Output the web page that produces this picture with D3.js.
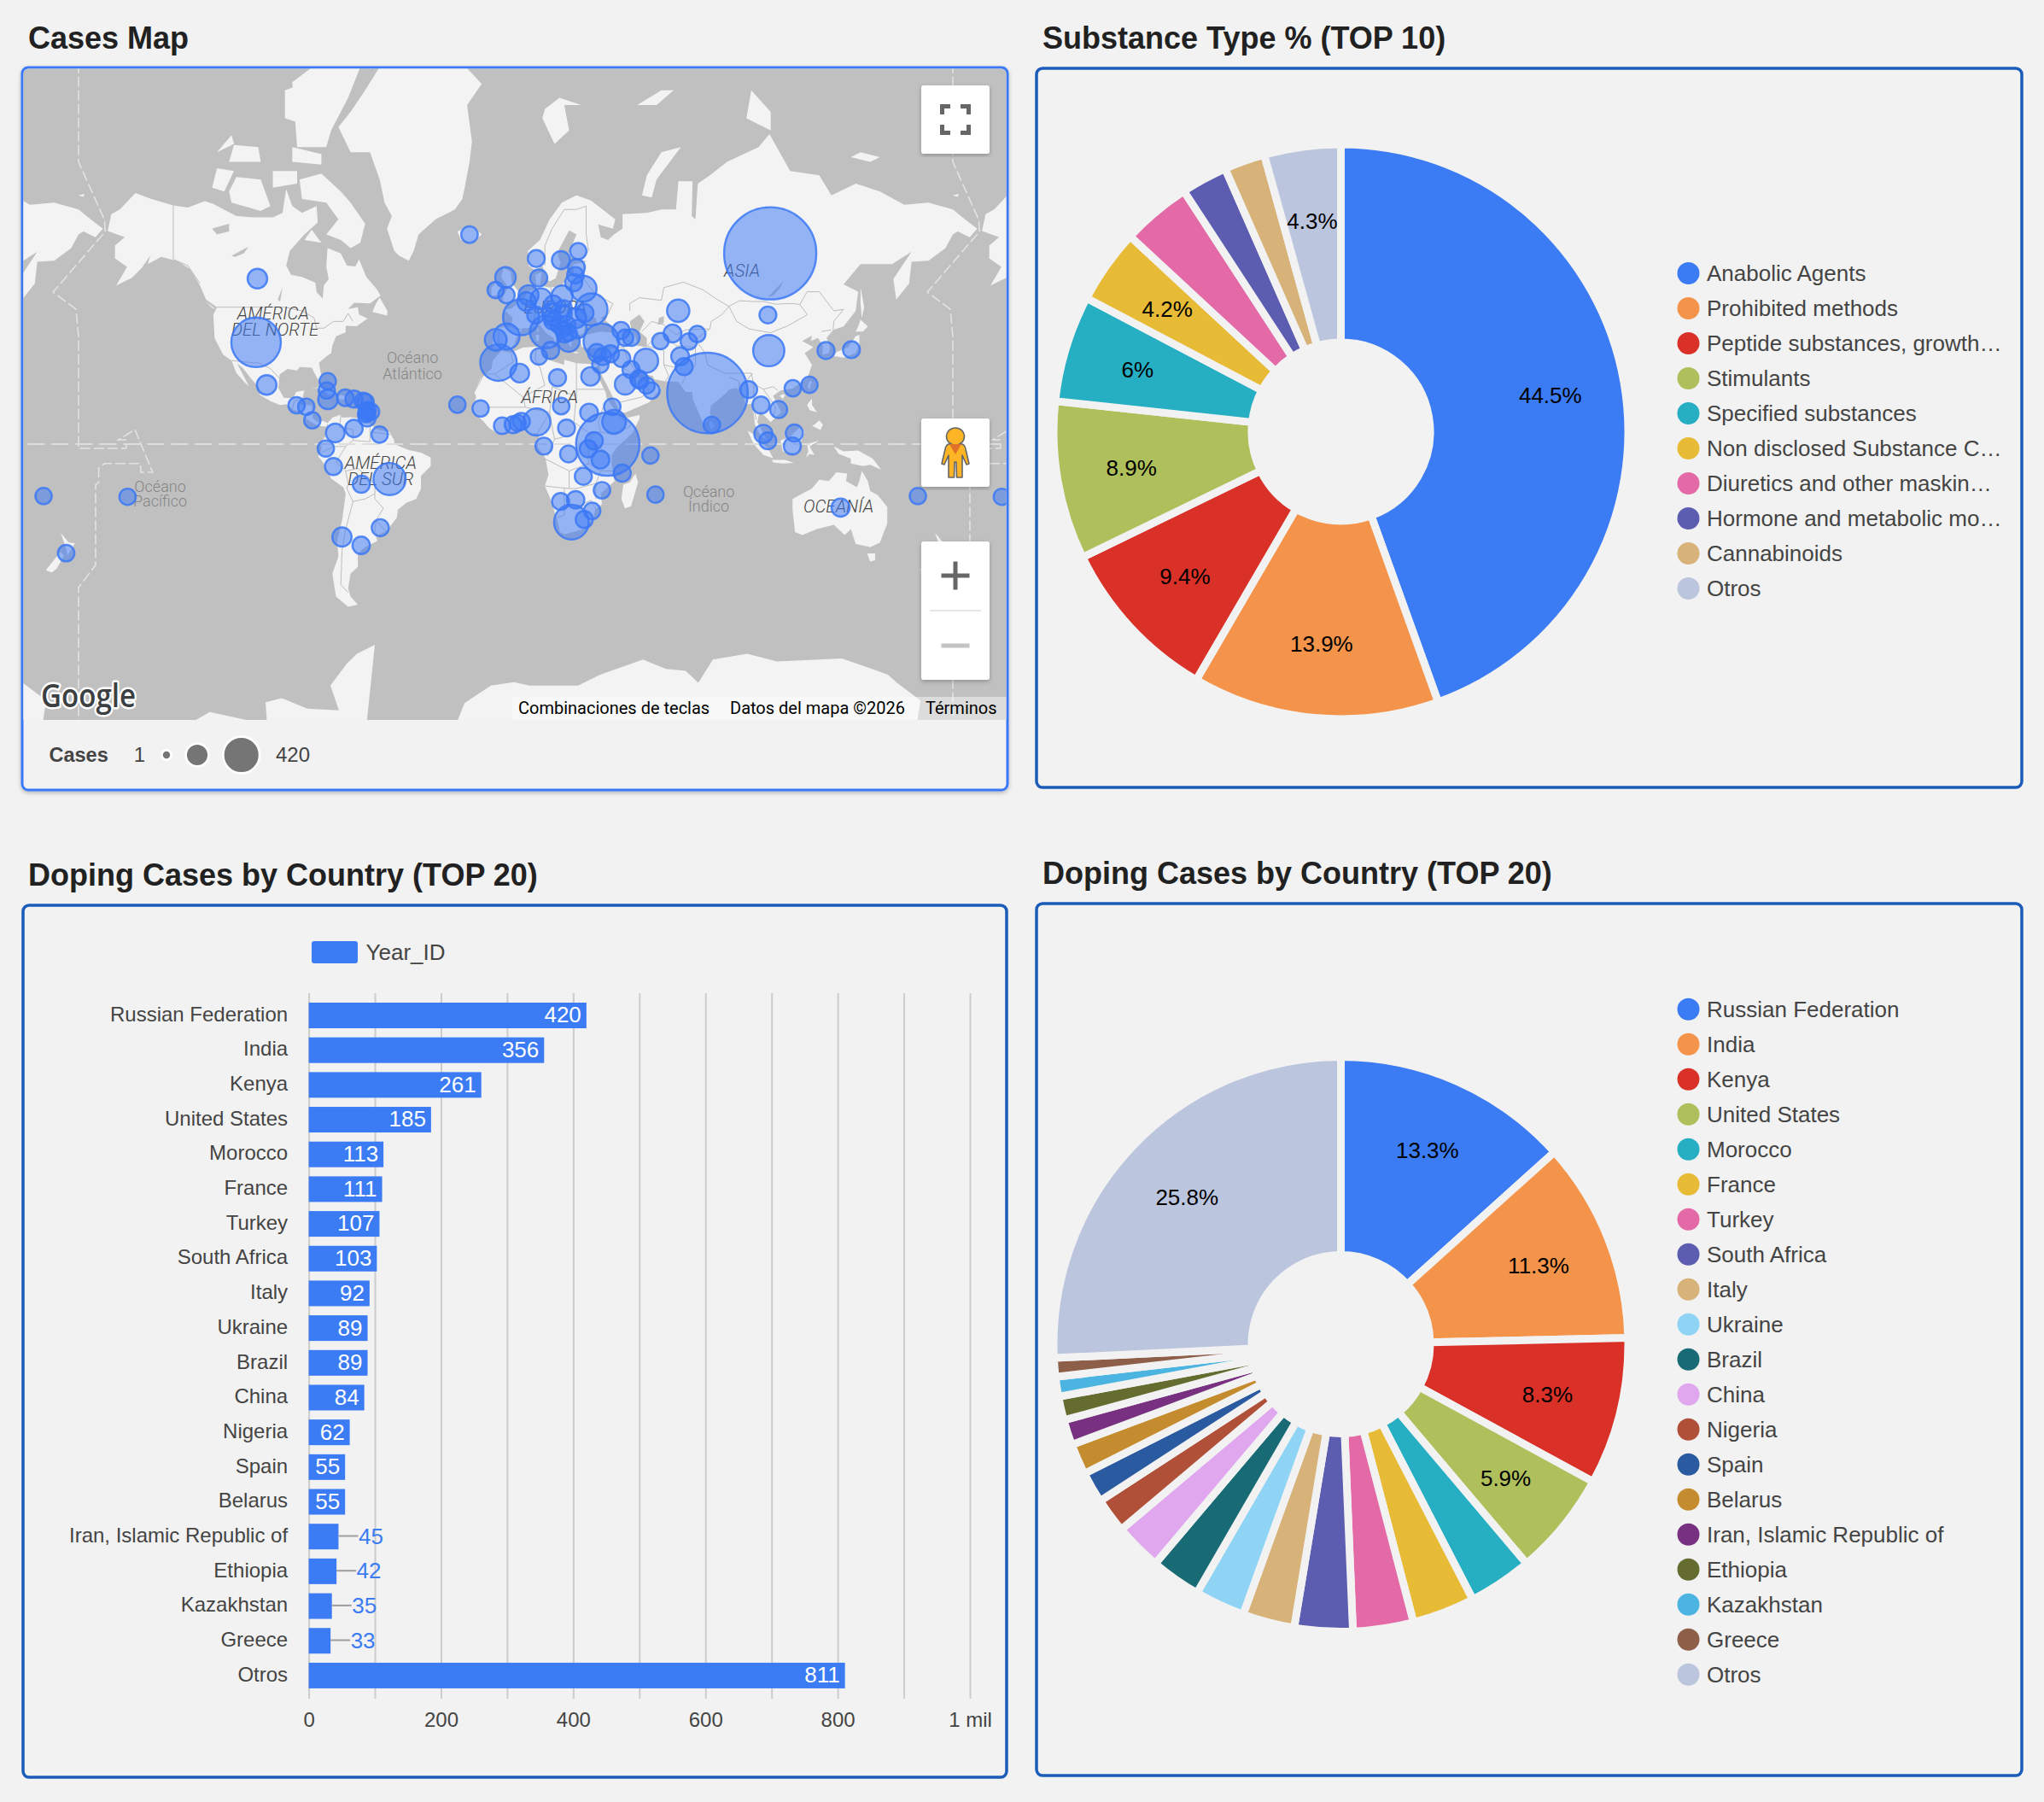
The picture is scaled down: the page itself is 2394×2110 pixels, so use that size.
<!DOCTYPE html>
<html><head><meta charset="utf-8">
<script src="https://cdn.jsdelivr.net/npm/d3@7"></script>
<style>
html,body{margin:0;padding:0;background:#f2f2f2}
svg{display:block}
text{font-family:"Liberation Sans",Arial,sans-serif}
text.rb{font-family:Roboto,sans-serif}
</style></head><body>
<svg id="c" width="2394" height="2110"></svg>
<script>
// ---------- DATA ----------
const barCategories = ["Russian Federation","India","Kenya","United States","Morocco","France","Turkey","South Africa","Italy","Ukraine","Brazil","China","Nigeria","Spain","Belarus","Iran, Islamic Republic of","Ethiopia","Kazakhstan","Greece","Otros"];
const barValues = [420,356,261,185,113,111,107,103,92,89,89,84,62,55,55,45,42,35,33,811];
const axisTicks = [0,100,200,300,400,500,600,700,800,900,1000];
const substanceNames = ["Anabolic Agents","Prohibited methods","Peptide substances, growth…","Stimulants","Specified substances","Non disclosed Substance C…","Diuretics and other maskin…","Hormone and metabolic mo…","Cannabinoids","Otros"];
const substanceValues = [44.5,13.9,9.4,8.9,6,4.2,3.9,2.6,2.3,4.3];
const palette = ["#3b7bf4","#f4944a","#d93128","#aebf5b","#26aec3","#e7bb35","#e36aa7","#5c5cb0","#d7b279","#8fd4f5","#186b75","#e0a7ef","#b15039","#2a5aa0","#c48c2e","#783080","#646c30","#4cb4e0","#8d5e48"];
const otherColor = "#bcc5de";
const sizeLegend = [1,420];
// country, lon, lat, cases
const geoCases = [
["Russian Federation",104.8,61.5,420],["India",78.96,20.59,356],["Kenya",37.91,-0.02,261],["United States",-106.9,38.6,185],["Morocco",-7.09,31.79,113],["France",2.21,46.23,111],["Turkey",35.24,38.96,107],["South Africa",22.94,-30.56,103],["Italy",12.57,41.87,92],["Ukraine",31.17,48.38,89],["Brazil",-51.93,-14.24,89],["China",104.2,35.86,84],["Nigeria",8.68,9.08,62],["Spain",-3.75,40.46,55],["Belarus",27.95,53.71,55],["Iran",53.69,32.43,45],["Ethiopia",40.49,9.15,42],["Kazakhstan",66.92,48.02,35],["Greece",21.82,39.07,33],
["Canada",-106.35,56.13,20],["Mexico",-102.55,23.63,20],["Guatemala",-90.23,15.78,2],["Honduras",-86.24,15.2,2],["Costa Rica",-83.75,9.75,2],["Bahamas",-77.4,25.03,2],["Cuba",-77.78,21.52,2],["Jamaica",-77.3,18.1,20],["Dominican Republic",-70.16,18.74,3],["Puerto Rico",-66.59,18.22,6],["St Kitts",-62.78,17.36,6],["Antigua",-61.8,17.06,2],["Barbados",-59.54,13.19,2],["St Lucia",-60.98,13.9,1],["Grenada",-61.6,12.26,2],["St Vincent",-61.29,12.98,1],["Trinidad",-61.22,10.69,6],["Venezuela",-66.59,6.42,8],["Colombia",-74.3,4.57,15],["Suriname",-56.03,3.92,2],["Ecuador",-78.18,-1.83,2],["Peru",-75.02,-9.19,6],["Bolivia",-63.59,-16.29,6],["Uruguay",-55.77,-32.52,6],["Chile",-71.54,-35.68,18],["Argentina",-63.62,-38.42,8],
["Iceland",-19.02,64.96,3],["Norway",8.47,60.47,5],["Sweden",18.64,60.13,12],["Finland",25.75,61.92,2],["Estonia",25.01,58.6,5],["Latvia",24.6,56.88,3],["Lithuania",23.88,55.17,6],["Denmark",9.5,56.26,6],["United Kingdom",-4.2,56.4,25],["Ireland",-8.24,53.41,2],["Wales",-3.78,52.13,2],["Netherlands",5.29,52.13,22],["Belgium",4.47,50.5,15],["Germany",10.45,51.17,28],["Poland",19.15,51.92,28],["Czech Republic",15.47,49.82,8],["Austria",14.55,47.52,12],["Switzerland",8.23,46.82,5],["Slovakia",19.7,48.67,3],["Hungary",19.5,47.16,8],["Slovenia",14.99,46.15,3],["Croatia",15.2,45.1,4],["Bosnia",17.68,43.92,1],["Serbia",21.0,44.02,8],["Montenegro",19.37,42.71,1],["Albania",20.17,41.15,3],["North Macedonia",21.75,41.61,2],["Bulgaria",25.49,42.73,14],["Romania",24.97,45.94,20],["Moldova",28.37,47.41,10],["Portugal",-8.22,39.4,32],["Tunisia",9.54,33.89,2],["Malta",14.38,35.94,6],["Algeria",1.66,28.03,15],["Libya",17.23,26.34,6],["Egypt",30.8,26.82,14],["Cyprus",33.43,35.13,10],
["Sudan",30.22,12.86,10],["Chad",18.73,15.45,3],["Senegal",-14.45,14.5,2],["Cape Verde",-24.0,16.0,2],["Ivory Coast",-5.55,7.54,3],["Ghana",-1.02,7.95,6],["Benin",2.32,9.31,6],["Togo",0.82,8.62,1],["Central African Republic",20.94,6.61,5],["Gabon",11.6,-0.8,5],["DR Congo",21.76,-4.04,5],["Eritrea",39.78,15.18,3],["Uganda",32.29,1.37,8],["Rwanda",29.87,-1.94,6],["Tanzania",34.89,-6.37,10],["Seychelles",55.49,-4.68,2],["Comoros",43.87,-11.88,6],["Zambia",27.85,-13.13,6],["Mozambique",35.53,-18.67,3],["Mauritius",57.55,-20.35,2],["Namibia",18.49,-22.96,6],["Botswana",24.68,-22.33,8],["Eswatini",31.47,-26.52,3],["Lesotho",28.23,-29.61,6],
["Mongolia",103.85,46.86,5],["Japan",138.25,36.2,5],["South Korea",127.77,35.91,6],["Taiwan",120.96,23.7,2],["Hong Kong",114.11,22.4,2],["Sri Lanka",80.77,7.87,3],["Myanmar",95.96,21.91,5],["Thailand",100.99,15.87,6],["Vietnam",108.28,14.06,6],["Malaysia",101.98,4.21,12],["Singapore",103.82,1.35,5],["Brunei",114.73,4.54,6],["Indonesia",113.92,-0.79,6],["Australia",133.78,-25.27,12],["New Zealand",174.89,-40.9,3],["New Caledonia",165.6,-20.9,2],["Cook Islands",-159.8,-21.2,2],
["Uzbekistan",64.59,41.38,10],["Kyrgyzstan",74.77,41.2,2],["Tajikistan",71.28,38.86,2],["Turkmenistan",59.56,38.97,2],["Afghanistan",67.71,33.94,10],["Pakistan",69.35,30.38,6],["Georgia",43.36,42.32,6],["Armenia",45.04,40.07,2],["Azerbaijan",47.58,40.14,4],["Lebanon",35.86,33.85,6],["Syria",38.99,34.8,6],["Israel",34.85,31.05,2],["Iraq",43.68,33.22,6],["Kuwait",47.48,29.31,6],["Saudi Arabia",45.08,23.89,25],["Bahrain",50.64,25.93,6],["Qatar",51.18,25.35,6],["UAE",53.85,23.42,2],["Oman",55.92,21.51,2]
];
const mapLabels = [["AMÉRICA",-99.9,47.4,"c"],["DEL NORTE",-99.1,42.5,"c"],["Océano",-42.5,33.4,"o"],["Atlántico",-42.5,27.8,"o"],["Océano",-146.4,-17.2,"o"],["Pacífico",-146.4,-22.9,"o"],["Océano",79.5,-19.3,"o"],["Índico",79.5,-24.8,"o"],["ASIA",93.2,58,"c"],["EUROPA",16.2,49,"c"],["ÁFRICA",14,19,"c"],["AMÉRICA",-55.6,-7.7,"c"],["DEL SUR",-55.6,-14.3,"c"],["OCEANÍA",132.9,-24.8,"c"]];

// ---------- coast (lon,lat) ----------
const northAmerica=[[-168,65.6],[-166.5,68.3],[-163,69],[-156.6,71.3],[-150,70.5],[-141,69.6],[-135,69.3],[-128,70.2],[-124.5,69.8],[-115,68],[-108,67.8],[-100,67.8],[-96,68.5],[-94.5,71.8],[-92,69.5],[-88,68.5],[-82,69.5],[-81.5,67],[-87,65],[-93,62],[-94.5,59],[-92.5,57],[-88,56.5],[-82.5,55.2],[-82,52.9],[-79.5,51.3],[-79,54.5],[-77,56],[-78,58.7],[-77.5,62.5],[-72,61.5],[-69.5,59],[-66,58.8],[-64.5,60.3],[-61.5,56.5],[-57,53.5],[-55.7,52],[-60,50],[-66.5,50.2],[-69,48.5],[-65,49],[-64.5,47],[-61,45.8],[-65.5,43.6],[-70,43.7],[-70,41.7],[-74,40.5],[-75.5,37.5],[-76,35],[-78,33.9],[-81,31.7],[-80,26.8],[-80.4,25.2],[-81.7,26],[-82.8,28],[-84,30],[-89,30.2],[-90,29],[-94,29.5],[-97.2,27.5],[-97.7,22.5],[-95.5,18.7],[-91.5,18.5],[-90.5,21],[-87,21.5],[-88,18],[-88.8,15.9],[-84,15.8],[-83.5,12],[-83.7,10.8],[-81.5,9],[-79.5,9.5],[-77.4,8.7],[-78,7.3],[-80,7.3],[-83,8.2],[-85.7,10],[-87.5,13],[-91.5,14],[-94.5,16.2],[-97,15.9],[-101,17.4],[-105.5,20],[-105.5,22.5],[-109,26],[-112.5,30],[-114.7,31.5],[-112,27],[-109.8,23],[-112,25],[-115,28],[-117,32.5],[-120.5,34.5],[-124,40],[-124.5,47],[-123,49],[-127.5,51],[-130,54.5],[-134,58.2],[-139,59.9],[-146,60.8],[-151.5,59.3],[-150.5,61],[-154,58.5],[-158,56.3],[-164.5,54.5],[-160,58.7],[-165,60.5],[-165,63],[-161,64.5]];
const greenland=[[-73,78.3],[-68,76],[-60,76],[-56,73],[-54,70],[-51,68],[-53,66],[-50,62],[-48,61],[-44,60],[-42,62],[-40,65],[-33,67.5],[-25,69],[-22,70.5],[-21,72],[-19,75],[-18,77],[-20,80],[-14,81.4],[-25,83],[-40,84],[-53,83],[-62,81],[-68,79.5]];
const arcticIslands=[
[[-80,73.7],[-72,71.5],[-68,70],[-62,66.8],[-64,63.5],[-68,62.5],[-72,64],[-78,65],[-73,67.5],[-78,70],[-88,70.5],[-89,73]],
[[-117,70],[-105,68.8],[-101,69.5],[-105,73],[-115,73.3],[-118,71.5]],
[[-125,72],[-120,71.5],[-116,74],[-123,74.3]],
[[-90,76.5],[-78,76.5],[-76,78],[-69,80.5],[-63,82.7],[-75,83.2],[-92,81.5]],
[[-92,75],[-80,74.7],[-80,75.8],[-92,76.5]],
[[-118,75],[-105,75],[-106,76.5],[-116,76.7]],
[[-123,76],[-116,76.8],[-117,77.6]],
[[-95,79],[-87,78.5],[-86,81.5],[-95,81]],
[[-100,72],[-90,72.5],[-90,74],[-100,74]],
[[-87,64],[-80,63.5],[-84,65.8]],
[[11,79],[16,76.8],[22,78],[20,80],[27,80],[18,80.5],[12,79.7]],
[[50,80],[60,81],[65,81],[58,80]],
[[52,71],[56,70.7],[58,73],[68,76.5],[60,76],[54,73.5]],
[[95,79],[105,78],[105,79.5],[97,81]],
[[138,75.5],[146,75],[150,75.5],[142,76]],
[[-180,71],[-177.5,71.2],[-178,70.8]]];
const islands=[
[[-59,47.7],[-53,46.7],[-52.8,48],[-56,51.5],[-57.5,50]],
[[-128,50.7],[-123.5,48.4],[-125,48.8]],
[[-85,21.9],[-80,23.2],[-74.2,20.2],[-77.5,19.9],[-78,20.8],[-82,22.5]],
[[-74.4,18.4],[-72,19.9],[-68.4,18.7],[-71,18]],
[[-78.3,18.3],[-76.3,18.1],[-77,17.8]],
[[-67.2,18.4],[-65.7,18.3],[-66,18]],
[[49.3,-12],[50.4,-15.5],[47.5,-24.8],[45,-25.6],[43.5,-22],[44.3,-16.5],[47,-15.5]],
[[142,54],[143.5,49],[142.5,46],[142,50]],
[[130.9,34],[135,33.5],[140,35],[141.5,38],[141.5,41],[140,40.5],[137,37],[132,35.3]],
[[140,42],[143,42],[145,43.5],[142,45.5],[141,43.5]],
[[120.2,23],[121,22],[122,25],[121,25]],
[[108.7,19.5],[110,18.3],[111,19.7],[110,20.1]],
[[120,16],[122,18.5],[122,16],[124,13],[121,13.8]],
[[122,7.5],[125.5,5.8],[126.5,8],[125,9.7],[123,8]],
[[95.5,5.5],[98,4],[104,-2],[106,-5.8],[102,-4.5],[98,0]],
[[109,1.5],[113,3],[117,7],[119,5],[117.5,1],[116,-4],[110,-3]],
[[105.5,-6.5],[111,-6.5],[114.5,-7.7],[110,-8],[106,-7.5]],
[[119.5,-5.5],[120.5,-3],[120,0],[125,1.5],[121,-1],[123,-4.5],[121,-4]],
[[131,-1],[135,-3],[141,-2.6],[147,-6],[150.5,-10.5],[146,-8.5],[143,-9],[138,-8],[138,-6],[133,-4]],
[[80,9.7],[82,7.5],[80.5,6],[79.8,8]],
[[144.7,-41],[148,-41],[148,-43],[146,-43.5]],
[[172.7,-34.4],[176,-37.5],[178.5,-37.7],[175.5,-41.5],[174.7,-39]],
[[172.7,-40.5],[174,-41.7],[171,-45.5],[169,-46.6],[166.5,-46],[171,-42]],
[[-5.5,50],[1.5,51.2],[1.7,52.7],[-1.5,55],[-2,57.6],[-5,58.6],[-6,56.5],[-3,54],[-5,52]],
[[-10,52],[-6,52.2],[-5.5,54.7],[-8,55.3],[-10,54]],
[[-24,65.5],[-18,66.5],[-14,65],[-18,63.4],[-22.5,64]],
[[12.5,38],[15.5,38.2],[15,36.7]],[[8.3,41],[9.7,41],[9.5,39.1],[8.5,39]],[[8.7,42.5],[9.5,43],[9.3,41.4]],[[23.5,35.5],[26.3,35.2],[24.7,34.9]],[[32.3,35],[34.5,35.6],[33.8,34.7]],
[[-180,69],[-175,67.5],[-170,66],[-173,64.5],[-178,65.5],[-180,65]]];
const southAmerica=[[-77.4,8.7],[-75.5,10.8],[-72,12],[-71.5,10.8],[-68,11],[-64,10.5],[-61,9],[-57,6],[-52,5],[-50,1.5],[-50,0],[-44,-2.5],[-39,-3.5],[-35,-5.5],[-35,-9],[-39,-13],[-39,-18],[-41,-22],[-45,-23.5],[-48.5,-26],[-49,-29],[-53,-33.5],[-56.5,-35],[-58,-34],[-57,-37],[-62,-39],[-65,-41],[-65,-45],[-68,-47],[-69,-51],[-68,-53],[-65,-55],[-69,-55.5],[-74,-53],[-75.5,-47],[-73,-42],[-73.5,-37],[-71.5,-30],[-70,-20],[-71,-17.5],[-76,-14],[-79,-8],[-81.3,-5],[-80,-2.5],[-80,1],[-78.5,3],[-77.5,6]];
const africa=[[-6,35.8],[-2,35.2],[3,36.9],[10,37.3],[11,33.5],[15,32.3],[20,31],[20,32.8],[25,31.6],[32,31.2],[34.2,31.3],[32.5,29.5],[34,26.5],[37,21],[37.5,18.5],[40,15],[43.2,11.5],[44.5,10.5],[51,11.9],[51,10.5],[48,4.5],[41,-2],[39.5,-5],[39.5,-8],[40.7,-15],[35,-20],[35.5,-24],[32.8,-26],[32,-29],[28,-33],[20,-34.8],[18.3,-34],[17,-29.5],[14.5,-22.5],[12,-17],[13.5,-12.5],[12.3,-6],[9,-1],[9.7,3.5],[8.7,4.5],[6,4.3],[4.5,6.3],[1,6],[-2,4.8],[-7.5,4.4],[-11,6.7],[-13.5,9.5],[-16.7,12.5],[-17.5,14.7],[-16.3,19],[-17,21],[-14.5,26],[-10,29.5],[-9.5,32.5]];
const eurasia=[[-9,37],[-9.5,38.8],[-9,43],[-2,43.4],[-1.2,46],[-4.7,48.3],[-1.5,48.7],[1.5,50.5],[3.5,51.4],[5,53],[8.5,53.8],[8.2,57],[10.7,57.6],[10,54.5],[14,54],[19,54.4],[21,56.5],[24,57.2],[23.5,59.2],[29.5,59.9],[25,60.3],[21.5,61],[25,65],[22,65.7],[17.5,62],[17.5,60.7],[18.5,59.7],[16.5,56.2],[14,55.5],[12.7,56],[11,59],[8,58],[5.3,59],[5,62],[10,64],[14,67.5],[19,70],[25,71],[31,70.3],[41,67.5],[40,66],[34,66.7],[35,64.5],[38,64],[40.5,65],[44,66],[44,68.3],[54,68.5],[60,69],[66,69],[67,72.8],[72.8,72.8],[72.5,68],[74,67.5],[75,72.5],[80,73.5],[87,75],[100,76.5],[104.5,77.7],[113,74],[125,73.5],[130,71],[140,72.5],[150,71.5],[160,69.7],[170,70],[180,69],[180,65],[177,62.5],[170,60],[163,59.8],[162,55],[156.7,51],[155.5,56],[163,61.8],[155,59.3],[142,59.3],[135,54.8],[141,53],[140,48],[135,43.5],[130.7,42.5],[128,40],[129.4,37],[129,35],[126.3,34.5],[126.5,37.5],[124.5,40],[121.5,39],[122,40.7],[118,39],[122.5,37],[119,35],[122,31],[120,26],[114,22.3],[109,21.5],[106,19.5],[109.3,13],[105,9],[103,11],[100.5,13.5],[99.5,9],[103.5,1.5],[101,3],[98.5,8],[97.5,16.5],[94.5,16],[94,19],[91,22.5],[88,22],[86,20],[80.3,15.5],[80,11],[77.5,8],[73,18],[72.7,21],[70,21],[67,24.8],[61.5,25],[57,25.8],[56.5,27],[51.5,27.8],[48.5,30],[50,26.5],[51.5,25.8],[51.5,24.3],[56,26],[59.8,22.5],[55,17],[45,12.8],[43,13],[39,21],[35,28],[35,29.5],[34.3,31.3],[35.9,35],[36,36.8],[30.5,36.5],[27.3,37],[26.3,39.5],[29,41],[35,42],[41.5,41.5],[39,44],[37,45.3],[38,47],[35,46],[36.5,45.2],[33.5,44.5],[33,46],[30.5,46.5],[28.5,43.5],[28,41.5],[26,40.8],[23.5,40.3],[22.7,37],[20.5,40],[19.3,42],[14,45],[12.3,45.3],[16,41.5],[18.5,40],[16.7,39.7],[16,38],[15.6,40],[12.5,41.5],[10,44],[6,43],[3,43],[0.3,40],[-0.5,38],[-2,36.8],[-5.5,36]];
const australia=[[114,-22],[114,-26],[115,-34],[118,-35],[124,-33],[131,-31.5],[135.5,-35],[138,-33],[140,-38],[146,-39],[150,-37.5],[153,-31],[153,-25],[149,-20.5],[146,-19],[145,-15],[142.5,-11],[141.5,-15],[140.5,-17.5],[136,-15],[136.5,-12],[132,-11.5],[129,-15],[125,-14.5],[122,-18],[117,-20.5]];
const antarctica=[[-195,-75],[-140,-75.5],[-125.9,-73.4],[-111,-74.3],[-102.3,-75],[-103,-72.2],[-96.3,-71.7],[-85.8,-73],[-72.8,-73.2],[-76.3,-70],[-69.6,-66.7],[-65.4,-65],[-58,-63.4],[-61.5,-75],[-25.7,-75.5],[-21,-72.3],[-10.2,-70],[-0.7,-69.5],[5.6,-70],[25.7,-70],[34.8,-68.4],[52.4,-66],[61.9,-67.5],[70,-67.8],[75.2,-69.6],[81.2,-66],[95.3,-65],[107.6,-66.3],[125.2,-66],[134.3,-65.8],[145.2,-67.3],[153.3,-68.4],[157,-69.6],[166.7,-72],[165,-75],[165,-85],[-195,-85]];
const inlandWater=[[[-125,66],[-118,66.8],[-118,65.5],[-123,65]],[[-117,61],[-110,62.8],[-112,61.5],[-115.5,60.8]],[[-98,51],[-96,54],[-97,50.5]],[[47,45],[51,47],[53,45],[51,42],[54,40],[54,37],[50,37.5],[49.5,40],[47.5,43]],[[59,46],[61,46.5],[61,44.5],[58.5,44]],[[104,51.7],[110,55.5],[109,54],[106,52]],[[31.8,0],[34,0],[33.5,-2.8],[32,-2.5]]];
const borders=[
[[-141,69.6],[-141,60.3],[-135,59],[-130,55]],[[-123,49],[-95,49],[-88,48],[-83,46],[-82,43],[-79,43],[-75,45],[-71,45],[-69,47.3],[-67,45]],[[-117,32.5],[-108,31.7],[-106,31.7],[-101,29.7],[-97.2,26]],[[-92,14.5],[-91,17.5],[-89,18]],
[[-51.7,4],[-60,5],[-60,1],[-67,1.5],[-70,-1],[-74,-7.5],[-70,-11],[-65,-10],[-60,-14],[-58,-17],[-58,-22],[-54.5,-25.5],[-57.5,-30],[-53.5,-33.7]],[[-69.5,-18],[-67,-23],[-70,-33],[-71.5,-40],[-72,-50],[-69,-52]],[[-70,-11],[-69,-16],[-69.5,-18]],[[-67,-23],[-62,-22],[-58,-20]],[[-57.5,-30],[-58,-34]],[[-72,12],[-72.5,7],[-67,6],[-67,1.5]],[[-80,-3.5],[-75,-1],[-70,-1]],[[-60,8],[-60,5]],
[[12,59],[12,63],[15,66],[20,69],[25,69],[29,69.5]],[[29,69.5],[29,65],[30,62],[27.5,60.5]],[[28,56],[28,59.5]],[[21,55.3],[23,54],[24,51],[22,49],[26,48],[30,46]],[[28,56],[32,53],[34,52],[40,50],[38,47]],[[6,51],[6,49],[8,47.5],[7,44]],[[-1.8,43.3],[3,42.5]],[[-9,42],[-7,42],[-7,37]],[[8.7,54.8],[9.5,54.8]],[[7,53.3],[6,51]],[[14.5,54],[15,51],[18,49.6],[22,49]],[[10,47.5],[17,48],[22,48]],[[13.5,46.5],[19,46],[22.5,44.5],[28.5,43.7]],[[26,41.7],[22.5,41.2],[20.5,40.5]],
[[47,48],[47,50],[51,51.5],[60,50.8],[61,54],[69,55.3],[77,53.5],[83,51],[87.8,49.2]],[[87.8,49.2],[92,50.7],[98,50.5],[102,50.5],[107,49.8],[114,50],[117,49.7],[120,47],[119.8,46.8],[112,43.7],[105,41.6],[96,42.8],[91,45],[87.8,49.2]],[[117,49.7],[120,53],[125,53],[131,48],[135,48.4],[131,45],[130.7,42.5]],[[52,42],[56,45],[61,44],[66,41],[70,42.5],[80,42.8],[80.5,45],[85,47],[87.8,49.2]],[[80,42.8],[74,39.5],[78,35],[79,31],[86,28],[92,28],[97,28],[98,24],[102,22],[106,23],[108,21.5]],[[44.5,39.5],[48,38.5],[54,37.3],[61,36],[61,31],[63,27],[61.5,25]],[[54,37.3],[60,42],[66,37.5],[74,37],[74,35],[74,31],[70,27],[68.5,24]],[[61,31],[66,30],[70,33],[74,35]],[[44.5,39.5],[44.5,37],[46,33],[48.5,30]],[[36,36.8],[44.5,37]],[[36,32.5],[39,32],[46,29],[51,24.5],[55,22],[52,19],[43,17]],[[41,41.5],[45,42],[47,41.5]],[[88,26.5],[92,25],[92,21]],[[98,24],[98,15],[99,10]],[[102,22],[105,18],[107,15],[106,11]],[[126,42],[130,42.5]],[[125,38],[129,38.5]],[[97.5,28],[94,24],[92,21]],
[[-2,35],[-1,32],[-8.7,27.7],[-13,27.7],[-17,21]],[[-8.7,27.7],[3,19],[12,23.5],[10,30],[8,33],[8.5,37]],[[3,19],[4,15],[14,13],[15,23],[24,19.5],[25,20]],[[25,31.6],[25,20],[24,9],[31,4],[35,5],[41,3.8],[48,8],[43,11]],[[25,22],[37,22]],[[36,15],[34,9],[35,5]],[[-12,15],[-5,15],[4,15]],[[-5,10],[-3,5]],[[3,6],[3.5,12]],[[14,13],[9,4.5]],[[14,13],[15,7],[16,2],[13,-5]],[[16,2],[24,4]],[[31,4],[30,-1],[30,-8],[22,-11],[12,-6]],[[30,-1],[34,-1],[39.5,-5]],[[30,-8],[35,-11],[40,-11]],[[22,-11],[22,-18],[12,-17]],[[22,-18],[25,-18],[33,-16],[35,-11]],[[20,-18],[20,-28],[17,-29]],[[20,-24],[25,-25],[31,-22.5],[33,-26]],[[33,-16],[33,-22]]];
const dateLines=[[[-180,85],[-180,75],[-169.3,67.4],[-169,65.5],[-190.5,52.9],[-181,48.4],[-180,40],[-180,-1.76],[-160.4,-1.76],[-160.4,1.76],[-163.6,1.76],[-156.8,6],[-149.5,-11.5],[-154.4,-11.5],[-154.4,-8],[-169.3,-8],[-171.7,-9.8],[-171.7,-15.5],[-173,-16.6],[-173,-44.5],[-180,-50.7],[-180,-85]]];
const equator=[[-260,0],[260,0]];

// ---------- setup ----------
const bg="#f2f2f2", border="#1a5cb8", mapBlue="#3b78f5";
const svg=d3.select("#c");
svg.append("rect").attr("width",2394).attr("height",2110).attr("fill",bg);
const defs=svg.append("defs");
const sh=defs.append("filter").attr("id","shadow").attr("x","-5%").attr("y","-5%").attr("width","110%").attr("height","110%");
sh.append("feDropShadow").attr("dx",0).attr("dy",2).attr("stdDeviation",2.5).attr("flood-color","#000").attr("flood-opacity",.25);
function title(t,x,y){svg.append("text").attr("x",x).attr("y",y).attr("dy",".35em").attr("font-size",36).attr("font-weight",700).attr("fill","#212121").text(t);}
function panel(x0,y0,x1,y1){svg.append("rect").attr("x",x0).attr("y",y0).attr("width",x1-x0).attr("height",y1-y0).attr("rx",7).attr("fill",bg).attr("stroke",border).attr("stroke-width",3.5);}
title("Cases Map",33,44);title("Substance Type % (TOP 10)",1221,44);title("Doping Cases by Country (TOP 20)",33,1024);title("Doping Cases by Country (TOP 20)",1221,1022);
panel(1214,80,2368,922);panel(27,1060,1179,2081);panel(1214,1058,2368,2079);

// ---------- map ----------
const M={x0:26,y0:79,x1:1180,y1:843,bot:925,cx:604,cy:520,k:1024/(2*Math.PI)};
const rawMerc=d3.geoMercatorRaw;
function proj(p){const m=rawMerc(p[0]*Math.PI/180,p[1]*Math.PI/180);return [M.cx+M.k*m[0],M.cy-M.k*m[1]];}
const linePath=d3.line().x(d=>proj(d)[0]).y(d=>proj(d)[1]);
const ringPath=d3.line().x(d=>proj(d)[0]).y(d=>proj(d)[1]).curve(d3.curveLinearClosed);
svg.append("rect").attr("x",M.x0).attr("y",M.y0).attr("width",M.x1-M.x0).attr("height",M.bot-M.y0).attr("rx",7).attr("fill","#f2f2f2").attr("stroke",mapBlue).attr("stroke-width",3).attr("filter","url(#shadow)");
const cp=defs.append("clipPath").attr("id","mapclip");
cp.append("path").attr("d",`M${M.x0+1.5},${M.y1}V${M.y0+8}Q${M.x0+1.5},${M.y0+1.5} ${M.x0+8},${M.y0+1.5}H${M.x1-8}Q${M.x1-1.5},${M.y0+1.5} ${M.x1-1.5},${M.y0+8}V${M.y1}Z`);
const mg=svg.append("g").attr("clip-path","url(#mapclip)");
mg.append("rect").attr("x",M.x0).attr("y",M.y0).attr("width",M.x1-M.x0).attr("height",M.y1-M.y0).attr("fill","#c0c0c0");
const lands=[northAmerica,greenland,...arcticIslands,...islands,southAmerica,africa,eurasia,australia,antarctica];
[-1024,0,1024].forEach(dx=>{
  const g=mg.append("g").attr("transform",`translate(${dx},0)`);
  g.selectAll("path.l").data(lands).join("path").attr("class","l").attr("d",ringPath).attr("fill","#f3f3f3");
  g.selectAll("path.w").data(inlandWater).join("path").attr("class","w").attr("d",ringPath).attr("fill","#c0c0c0");
  g.selectAll("path.b").data(borders).join("path").attr("class","b").attr("d",linePath).attr("fill","none").attr("stroke","#bdbdbd").attr("stroke-width",1);
  g.selectAll("path.d").data(dateLines).join("path").attr("class","d").attr("d",linePath).attr("fill","none").attr("stroke","#e4e4e4").attr("stroke-width",1.5).attr("stroke-dasharray","12 4");
});
mg.append("path").attr("d",linePath(equator)).attr("fill","none").attr("stroke","#dedede").attr("stroke-width",2).attr("stroke-dasharray","20 8");
mg.selectAll("text.ml").data(mapLabels).join("text").attr("class","ml rb")
  .attr("x",d=>proj([d[1],d[2]])[0]).attr("y",d=>proj([d[1],d[2]])[1]).attr("dy",".35em").attr("text-anchor","middle")
  .attr("font-size",d=>d[3]=="c"?20.5:18).attr("font-weight",300).attr("font-style",d=>d[3]=="c"?"italic":"normal")
  .attr("fill",d=>d[3]=="c"?"#444":"#858585").text(d=>d[0]);
// bubbles, including the wrapped world copies
const rScale=d3.scaleLinear().domain(sizeLegend).range([9.5,54]);
[-1024,0,1024].forEach(dx=>{
  mg.append("g").attr("transform",`translate(${dx},0)`).selectAll("circle").data(geoCases).join("circle")
   .attr("cx",d=>proj([d[1],d[2]])[0]).attr("cy",d=>proj([d[1],d[2]])[1]).attr("r",d=>rScale(d[3]))
   .attr("fill",mapBlue).attr("fill-opacity",.52).attr("stroke",mapBlue).attr("stroke-width",2.4).attr("stroke-opacity",.85);
});
// attribution
mg.append("rect").attr("x",600).attr("y",816).attr("width",580).attr("height",27).attr("fill","#fff").attr("fill-opacity",.45);
[["Combinaciones de teclas",607],["Datos del mapa ©2026",855],["Términos",1084]].forEach(d=>{
  mg.append("text").attr("class","rb").attr("x",d[1]).attr("y",829).attr("dy",".35em").attr("font-size",20).attr("fill","#000").text(d[0]);});
mg.append("text").attr("x",48).attr("y",828).attr("font-size",37).attr("font-weight",600).attr("style","font-family:'Open Sans',sans-serif").attr("fill","#3c4043").attr("stroke","#fff").attr("stroke-width",5).attr("paint-order","stroke").attr("stroke-linejoin","round").attr("textLength",111).attr("lengthAdjust","spacingAndGlyphs").text("Google");
// controls
function btn(y0,y1){svg.append("rect").attr("x",1079).attr("y",y0).attr("width",80).attr("height",y1-y0).attr("rx",3).attr("fill","#fff").attr("filter","url(#shadow)");}
btn(100,180);btn(490,570);btn(634,796);
svg.append("path").attr("fill","none").attr("stroke","#666").attr("stroke-width",5).attr("d","M1103.5,134V124.5H1113M1125,124.5H1134.5V134M1134.5,146V155.5H1125M1113,155.5H1103.5V146");
svg.append("rect").attr("x",1089).attr("y",714).attr("width",60).attr("height",2).attr("fill","#e6e6e6");
svg.append("path").attr("stroke","#666").attr("stroke-width",5).attr("d","M1102.5,674H1135.5M1119,657.5V690.5");
svg.append("path").attr("stroke","#c4c4c4").attr("stroke-width",5).attr("d","M1102.5,756H1135.5");
const peg=svg.append("g").attr("transform","translate(1119,0)").attr("stroke","#666").attr("stroke-width",1.6).attr("stroke-linejoin","round");
peg.append("path").attr("fill","#fdb525").attr("d","M-8,520L8,520Q11,521 12,526L16,543L13,544L8,533L8,559L1.5,559L1,541L-1,541L-1.5,559L-8,559L-8,533L-13,544L-16,543L-12,526Q-11,521 -8,520Z");
peg.append("ellipse").attr("cy",511).attr("rx",10.5).attr("ry",10).attr("fill","#fdb525");
peg.append("path").attr("fill","#e0702a").attr("stroke","none").attr("d","M-7,520L7,520L0,532Z");
// map legend
const ly=884;
svg.append("text").attr("x",57.5).attr("y",ly).attr("dy",".35em").attr("font-size",23.5).attr("font-weight",700).attr("fill","#444").text("Cases");
svg.append("text").attr("x",163.5).attr("y",ly).attr("dy",".35em").attr("text-anchor","middle").attr("font-size",24).attr("fill","#444").text(sizeLegend[0]);
svg.append("text").attr("x",323).attr("y",ly).attr("dy",".35em").attr("font-size",24).attr("fill","#444").text(sizeLegend[1]);
[[195,5.6],[231,13.4],[282.7,21.4]].forEach(d=>svg.append("circle").attr("cx",d[0]).attr("cy",ly).attr("r",d[1]).attr("fill","#757575").attr("stroke","#fff").attr("stroke-width",2.7));

// ---------- pies ----------
function donut(names,values,colors,cy,legendY0){
  const cx=1570.5,R=332,r=109,sw=9;
  const fmt=v=>{const s=d3.format(".1f")(v);return (s.endsWith(".0")?s.slice(0,-2):s)+"%";};
  const total=d3.sum(values);
  const arcs=d3.pie().sort(null).value(d=>d)(values);
  const arc=d3.arc().innerRadius(r-sw/2).outerRadius(R+sw/2);
  const g=svg.append("g").attr("transform",`translate(${cx},${cy})`);
  g.selectAll("path").data(arcs).join("path").attr("d",arc).attr("fill",(d,i)=>colors[i]).attr("stroke",bg).attr("stroke-width",sw).attr("stroke-linejoin","miter");
  const la=d3.arc().innerRadius(R*.75).outerRadius(R*.75);
  g.selectAll("text").data(arcs.filter(d=>d.value/total>=.04)).join("text")
    .attr("transform",d=>`translate(${la.centroid(d)})`).attr("text-anchor","middle").attr("dy",".35em").attr("font-size",26).attr("fill","#000").text(d=>fmt(d.value/total*100));
  const lg=svg.append("g").selectAll("g").data(names).join("g").attr("transform",(d,i)=>`translate(1977.5,${legendY0+i*41})`);
  lg.append("circle").attr("r",13).attr("fill",(d,i)=>colors[i]);
  lg.append("text").attr("x",21.5).attr("dy",".35em").attr("font-size",26).attr("fill","#444").text(d=>d);
}
const subColors=palette.slice(0,9).concat(otherColor);
donut(substanceNames,substanceValues,subColors,505.5,320);
const barColors=palette.concat(otherColor);
donut(barCategories,barValues,barColors,1574,1181.8);

// ---------- bars ----------
const x=d3.scaleLinear().domain([0,1000]).range([361.6,1136]);
const step=40.68,y0=1189-step/2;
const y=d3.scaleBand().domain(barCategories).range([y0,y0+step*20]).paddingInner(1-30/step).paddingOuter((1-30/step)/2);
const gy=[1163,1989];
const axisX=d3.axisBottom(x).tickValues(axisTicks).tickSize(-(gy[1]-gy[0])).tickPadding(12).tickFormat(d=>d%200?"":d==1000?"1 mil":d);
const gx=svg.append("g").attr("transform",`translate(0,${gy[1]})`).call(axisX);
gx.select(".domain").remove();
gx.selectAll("line").attr("stroke","#ccc").attr("stroke-width",2);
gx.selectAll("text").attr("font-size",24).attr("fill","#444").attr("font-family","Liberation Sans").attr("y",16);
const barFill="#3b7bf4";
const bars=svg.append("g").selectAll("g").data(barCategories).join("g");
bars.append("rect").attr("x",x(0)).attr("y",d=>y(d)).attr("width",(d,i)=>x(barValues[i])-x(0)).attr("height",y.bandwidth()).attr("fill",barFill);
bars.each(function(d,i){
  const v=barValues[i],g=d3.select(this),cy=y(d)+y.bandwidth()/2-0.7;
  if(v>=55){
    g.append("text").attr("x",x(v)-6).attr("y",cy).attr("dy",".35em").attr("text-anchor","end").attr("font-size",26).attr("fill","#fff").text(v);
  } else {
    g.append("line").attr("x1",x(v)).attr("x2",x(v)+23).attr("y1",cy).attr("y2",cy).attr("stroke","#9e9e9e").attr("stroke-width",2);
    g.append("text").attr("x",x(v)+23.5).attr("y",cy).attr("dy",".35em").attr("font-size",26).attr("fill",barFill).text(v);
  }
});
const axisY=d3.axisLeft(y).tickSize(0).tickPadding(24.5);
const gyA=svg.append("g").attr("transform",`translate(${x(0)},0)`).call(axisY);
gyA.select(".domain").remove();
gyA.selectAll("text").attr("font-size",24).attr("fill","#444").attr("font-family","Liberation Sans").attr("dy",".28em");
svg.append("rect").attr("x",365).attr("y",1102).attr("width",54).attr("height",26).attr("rx",3).attr("fill",barFill);
svg.append("text").attr("x",428.5).attr("y",1115).attr("dy",".35em").attr("font-size",26).attr("fill","#444").text("Year_ID");
</script></body></html>
